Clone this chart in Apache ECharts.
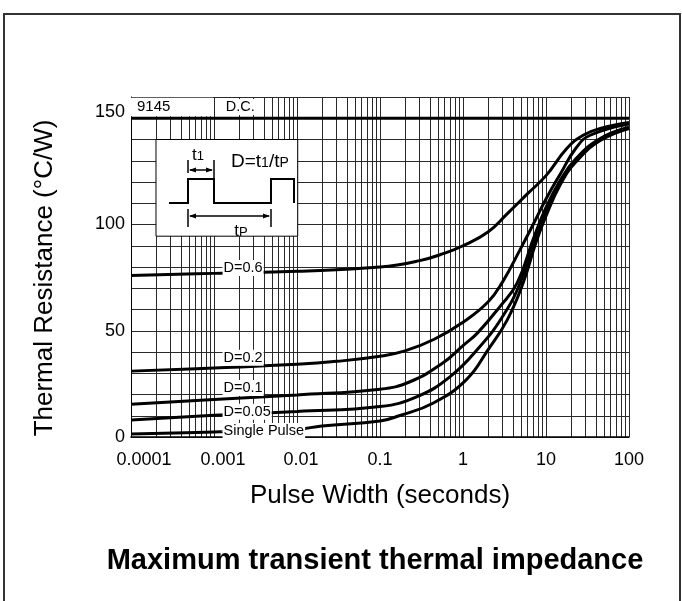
<!DOCTYPE html>
<html><head><meta charset="utf-8">
<script src="https://cdn.jsdelivr.net/npm/echarts@6/dist/echarts.min.js"></script>
<style>html,body{margin:0;padding:0;background:#fff}#c{width:682px;height:601px}</style>
</head><body><div id="c"></div>
<script>
// ---- tick labels ----
const xTickLabels = ['0.0001', '0.001', '0.01', '0.1', '1', '10', '100'];
const xTickValues = [0.0001, 0.001, 0.01, 0.1, 1, 10, 100];
const yTickLabels = ['0', '50', '100', '150'];
const gridMultipliers = [1, 2, 3, 4, 5, 6, 7, 8, 9];

// ---- series values ----
const dcX = [0.0001, 100];
const dcY = [150, 150];

const d06X = [0.0001, 0.001, 0.01, 0.1, 0.3, 0.6, 1, 2, 3.4, 6, 10, 18, 28, 45, 100];
const d06Y = [76, 77, 78, 80, 83, 86.5, 90, 96.5, 105, 114.5, 123, 136, 142, 145.2, 148];

const d02X = [0.0001, 0.001, 0.01, 0.03, 0.1, 0.2, 0.45, 1, 2, 3, 5, 7, 10, 15, 23, 34, 100];
const d02Y = [31, 32.5, 34.2, 35.6, 38, 40.5, 46, 54, 63.5, 73, 89, 100, 112, 124, 136, 142, 147.3];

const d01X = [0.0001, 0.001, 0.01, 0.1, 0.23, 0.57, 1, 1.5, 2.8, 4.5, 7, 10, 15, 23, 45, 100];
const d01Y = [15.4, 17.6, 19.8, 22.5, 26, 34.8, 43, 49, 61.5, 72.5, 93, 108, 121, 131, 140.5, 145.8];

const d005X = [0.0001, 0.001, 0.01, 0.1, 0.28, 0.7, 1.6, 3, 4.9, 7, 10, 15, 23, 45, 100];
const d005Y = [8, 10.2, 12, 14.3, 19, 28.4, 42.6, 56.7, 72.6, 91, 106, 120, 130, 140, 145.5];

const singleX = [0.0001, 0.001, 0.01, 0.02, 0.1, 0.17, 0.44, 1.1, 2, 3.4, 5.3, 7.5, 10, 15, 23, 45, 100];
const singleY = [1.4, 2.4, 3.6, 5.2, 7.5, 10, 16, 27, 41, 55, 72.5, 91, 104, 119, 129.5, 139.5, 145.2];

// ---- curve labels ----
const labelText = ['D=0.6', 'D=0.2', 'D=0.1', 'D=0.05', 'Single Pulse', 'D.C.'];
const labelX = [0.00125, 0.00125, 0.00125, 0.00125, 0.00125, 0.00133];
const labelY = [79.5, 37.3, 23.1, 11.9, 2.8, 155.3];

const FONT = 'Liberation Sans, Arial, sans-serif';

function pts(xs, ys) { return xs.map((x, i) => [x, ys[i]]); }

const gridValues = [];
xTickValues.slice(0, -1).forEach(d => gridMultipliers.forEach(m => gridValues.push(+(d * m).toPrecision(3))));
gridValues.push(100);

const xShift = { 0: 26, 1: 18, 2: 8 };
const xRich = {};
xTickLabels.forEach((t, i) => {
  xRich['s' + i] = { fontSize: 18, fontFamily: FONT, color: '#000', padding: [0, 0, 0, xShift[i] || 0] };
});

const curveStyle = { color: '#000', width: 3 };
function curve(name, xs, ys) {
  return { type: 'line', name, data: pts(xs, ys), symbol: 'none', smooth: 0.45,
           lineStyle: curveStyle, z: 3, silent: true };
}

const chart = echarts.init(document.getElementById('c'), null, { renderer: 'canvas' });
chart.setOption({
  animation: false,
  backgroundColor: '#fff',
  title: {
    text: 'Maximum transient thermal impedance',
    left: 370, top: 541, textAlign: 'center',
    textStyle: { fontFamily: FONT, fontWeight: 'bold', fontSize: 29, color: '#000' }
  },
  grid: { left: 131, right: 53, top: 97, bottom: 164 },
  xAxis: {
    type: 'log', logBase: 10, min: 0.0001, max: 100,
    name: 'Pulse Width (seconds)', nameLocation: 'middle', nameGap: 46,
    nameTextStyle: { fontFamily: FONT, fontSize: 26, color: '#000' },
    axisLine: { show: true, lineStyle: { color: '#000', width: 1.5 } },
    axisTick: { show: false, customValues: gridValues },
    axisLabel: {
      customValues: xTickValues, margin: 14,
      fontFamily: FONT, fontSize: 18, color: '#000',
      formatter: v => { const i = Math.round(Math.log10(v)) + 4; return '{s' + i + '|' + xTickLabels[i] + '}'; },
      rich: xRich
    },
    splitLine: { show: true, lineStyle: { color: '#2a2a2a', width: 1 } },
    minorSplitLine: { show: false }
  },
  yAxis: {
    type: 'value', min: 0, max: 160, interval: 10,
    name: 'Thermal Resistance (°C/W)', nameLocation: 'middle', nameGap: 73,
    nameTextStyle: { fontFamily: FONT, fontSize: 26, color: '#000', padding: [0, 22, 0, 0] },
    axisLine: { show: true, lineStyle: { color: '#000', width: 1 } },
    axisTick: { show: false },
    axisLabel: {
      margin: 6, fontFamily: FONT, fontSize: 18, color: '#000',
      formatter: v => yTickLabels.includes(String(v)) ? (v === 150 ? '{u|150}' : String(v)) : '',
      rich: { u: { fontSize: 18, fontFamily: FONT, color: '#000', padding: [0, 0, 12, 0] } }
    },
    splitLine: { show: true, lineStyle: { color: '#2a2a2a', width: 1 } }
  },
  series: [
    {
      type: 'line', name: 'D.C.', data: pts(dcX, dcY), symbol: 'none',
      lineStyle: { color: '#000', width: 3 }, z: 3, silent: true,
      markArea: {
        silent: true,
        data: [
          [{ name: '9145', coord: [0.0001, 151], itemStyle: { color: '#fff', borderWidth: 0 },
             label: { show: true, position: 'insideLeft', distance: 6, color: '#000', fontFamily: FONT, fontSize: 15 } },
           { coord: [0.00098, 159.7] }],
          [{ name: '', coord: [0.0002, 94.5], itemStyle: { color: '#fff', borderColor: '#000', borderWidth: 1 },
             label: { show: false } },
           { coord: [0.0102, 140] }]
        ]
      }
    },
    curve('D=0.6', d06X, d06Y),
    curve('D=0.2', d02X, d02Y),
    curve('D=0.1', d01X, d01Y),
    curve('D=0.05', d005X, d005Y),
    curve('Single Pulse', singleX, singleY),
    {
      type: 'scatter', name: 'labels', z: 10, silent: true,
      data: labelText.map((t, i) => ({ name: t, value: [labelX[i], labelY[i]] })),
      symbolSize: 1, itemStyle: { color: '#fff', opacity: 1 },
      label: { show: true, position: 'right', distance: 0, formatter: '{b}',
               backgroundColor: '#fff', padding: [1, 1, 0, 1], opacity: 1,
               color: '#000', textBorderWidth: 0, fontFamily: FONT, fontSize: 14.5 },
      emphasis: { disabled: true }
    }
  ],
  graphic: [
    { type: 'rect', z: 100, shape: { x: 4, y: 14, width: 676, height: 620 },
      style: { fill: 'none', stroke: '#333', lineWidth: 2 }, silent: true },
    // inset: pulse waveform
    { type: 'polyline', z: 100, silent: true,
      shape: { points: [[169,203],[188,203],[188,179],[214,179],[214,203],[271,203],[271,179],[294,179],[294,203]] },
      style: { stroke: '#000', lineWidth: 2, fill: 'none' } },
    // t1 marker
    { type: 'line', z: 100, silent: true, shape: { x1: 188, y1: 160, x2: 188, y2: 173 }, style: { stroke: '#000', lineWidth: 1.5 } },
    { type: 'line', z: 100, silent: true, shape: { x1: 214, y1: 160, x2: 214, y2: 179 }, style: { stroke: '#000', lineWidth: 1.5 } },
    { type: 'line', z: 100, silent: true, shape: { x1: 190, y1: 170, x2: 212, y2: 170 }, style: { stroke: '#000', lineWidth: 1.5 } },
    { type: 'polygon', z: 100, silent: true, shape: { points: [[189,170],[196,167.5],[196,172.5]] }, style: { fill: '#000' } },
    { type: 'polygon', z: 100, silent: true, shape: { points: [[213,170],[206,167.5],[206,172.5]] }, style: { fill: '#000' } },
    // tP marker
    { type: 'line', z: 100, silent: true, shape: { x1: 188, y1: 209, x2: 188, y2: 227 }, style: { stroke: '#000', lineWidth: 1.5 } },
    { type: 'line', z: 100, silent: true, shape: { x1: 271, y1: 209, x2: 271, y2: 227 }, style: { stroke: '#000', lineWidth: 1.5 } },
    { type: 'line', z: 100, silent: true, shape: { x1: 190, y1: 216, x2: 269, y2: 216 }, style: { stroke: '#000', lineWidth: 1.5 } },
    { type: 'polygon', z: 100, silent: true, shape: { points: [[189,216],[196,213.5],[196,218.5]] }, style: { fill: '#000' } },
    { type: 'polygon', z: 100, silent: true, shape: { points: [[270,216],[263,213.5],[263,218.5]] }, style: { fill: '#000' } },
    // inset texts
    { type: 'text', z: 100, silent: true, x: 192, y: 155,
      style: { text: '{a|t}{b|1}', verticalAlign: 'middle', align: 'left',
               rich: { a: { fontSize: 17, fontFamily: FONT, fill: '#000' }, b: { fontSize: 13, fontFamily: FONT, fill: '#000', padding: [3,0,0,0] } } } },
    { type: 'text', z: 100, silent: true, x: 231, y: 162,
      style: { text: '{a|D=t}{b|1}{a|/t}{b|P}', verticalAlign: 'middle', align: 'left',
               rich: { a: { fontSize: 19, fontFamily: FONT, fill: '#000' }, b: { fontSize: 14, fontFamily: FONT, fill: '#000', padding: [3,0,0,0] } } } },
    { type: 'text', z: 100, silent: true, x: 241, y: 231,
      style: { text: '{a|t}{b|P}', verticalAlign: 'middle', align: 'center',
               rich: { a: { fontSize: 17, fontFamily: FONT, fill: '#000' }, b: { fontSize: 13, fontFamily: FONT, fill: '#000', padding: [3,0,0,0] } } } }
  ]
});
</script>
</body></html>
